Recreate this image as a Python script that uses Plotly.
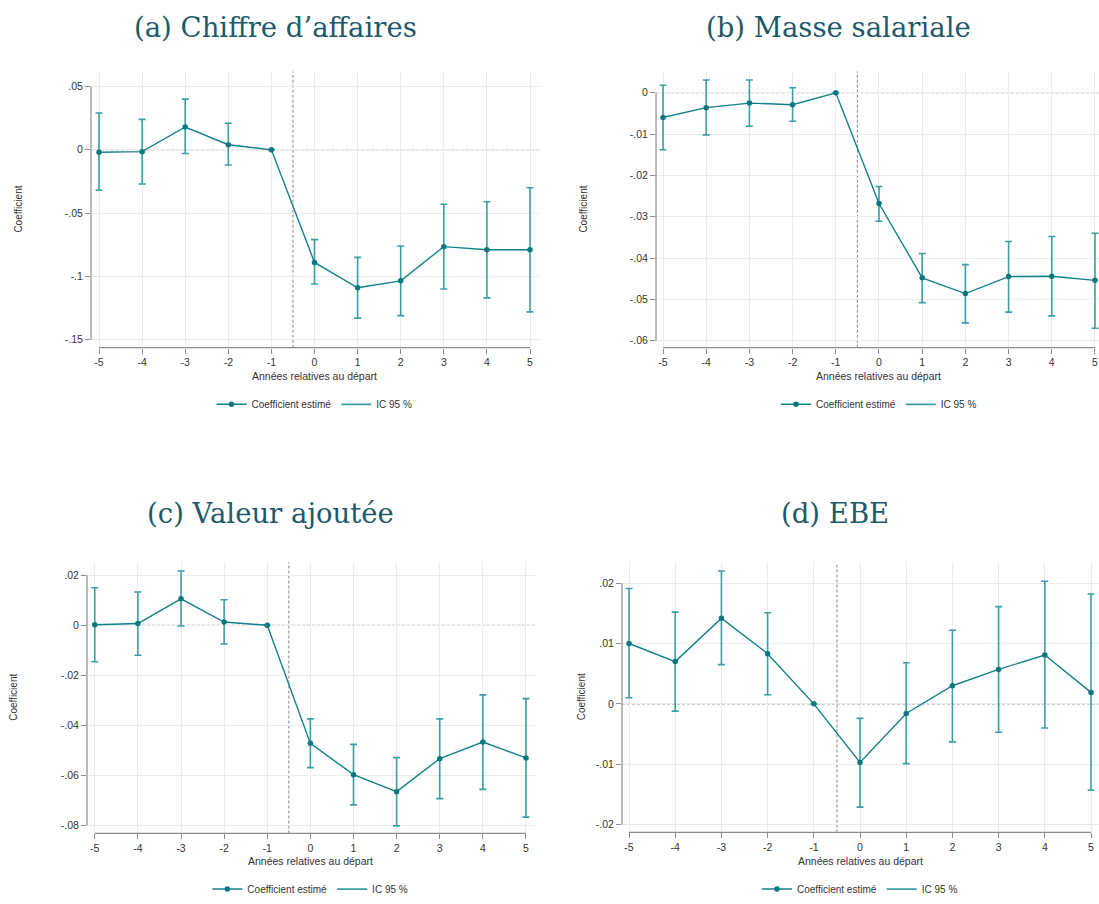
import plotly.graph_objects as go

W, H = 1099, 904

years = [-5, -4, -3, -2, -1, 0, 1, 2, 3, 4, 5]
x_ticktext = ["-5", "-4", "-3", "-2", "-1", "0", "1", "2", "3", "4", "5"]

# (a) Chiffre d'affaires
coef_a = [-0.002, -0.0015, 0.018, 0.004, 0.0, -0.089, -0.109, -0.1035, -0.0765, -0.079, -0.079]
lo_a = [-0.032, -0.027, -0.003, -0.012, 0.0, -0.106, -0.133, -0.131, -0.110, -0.117, -0.128]
hi_a = [0.029, 0.024, 0.040, 0.021, 0.0, -0.071, -0.085, -0.076, -0.043, -0.041, -0.030]
yt_a = [0.05, 0.0, -0.05, -0.1, -0.15]
ytt_a = [".05", "0", "-.05", "-.1", "-.15"]

# (b) Masse salariale
coef_b = [-0.0060, -0.0036, -0.0025, -0.0029, 0.0, -0.0268, -0.0448, -0.0486, -0.0445, -0.0444, -0.0454]
lo_b = [-0.0138, -0.0102, -0.0081, -0.0069, 0.0, -0.0311, -0.0508, -0.0557, -0.0531, -0.0540, -0.0570]
hi_b = [0.0018, 0.0031, 0.0031, 0.0012, 0.0, -0.0227, -0.0389, -0.0416, -0.0360, -0.0348, -0.0340]
yt_b = [0.0, -0.01, -0.02, -0.03, -0.04, -0.05, -0.06]
ytt_b = ["0", "-.01", "-.02", "-.03", "-.04", "-.05", "-.06"]

# (c) Valeur ajoutée
coef_c = [0.0002, 0.0007, 0.0106, 0.0013, 0.0, -0.0472, -0.0597, -0.0665, -0.0533, -0.0467, -0.0530]
lo_c = [-0.0146, -0.0120, -0.0003, -0.0075, 0.0, -0.0569, -0.0718, -0.0802, -0.0693, -0.0656, -0.0767]
hi_c = [0.0150, 0.0133, 0.0217, 0.0102, 0.0, -0.0374, -0.0476, -0.0529, -0.0374, -0.0278, -0.0293]
yt_c = [0.02, 0.0, -0.02, -0.04, -0.06, -0.08]
ytt_c = [".02", "0", "-.02", "-.04", "-.06", "-.08"]

# (d) EBE
coef_d = [0.0100, 0.0070, 0.0142, 0.0083, 0.0, -0.0097, -0.0016, 0.0030, 0.0057, 0.0081, 0.0019]
lo_d = [0.0010, -0.0012, 0.0065, 0.0015, 0.0, -0.0171, -0.0099, -0.0063, -0.0047, -0.0040, -0.0143]
hi_d = [0.0191, 0.0152, 0.0220, 0.0151, 0.0, -0.0024, 0.0068, 0.0122, 0.0161, 0.0203, 0.0182]
yt_d = [0.02, 0.01, 0.0, -0.01, -0.02]
ytt_d = [".02", ".01", "0", "-.01", "-.02"]

titles = ["(a) Chiffre d\u2019affaires", "(b) Masse salariale", "(c) Valeur ajout\u00e9e", "(d) EBE"]

LINE = "#12808a"
MARK = "#0a777e"
CI = "#3a9ea6"
TITLE_C = "#1c5a6a"
GRID = "#ebebeb"
AX = "#8c8c8c"
TXT = "#333333"
FONT = "Liberation Sans, Arial, sans-serif"

# panel layout in pixels: x-domain, y-domain (top, bottom), x range, y range
panels = [
    dict(coef=coef_a, lo=lo_a, hi=hi_a, yt=yt_a, ytt=ytt_a,
         px=(91, 540), py=(72, 350), xr=(-5.186, 5.232), yr=(-0.1563, 0.0618),
         title_xy=(275, 27), ytitle_x=19, xtitle_y=379, leg_y=407),
    dict(coef=coef_b, lo=lo_b, hi=hi_b, yt=yt_b, ytt=ytt_b,
         px=(656, 1099), py=(72, 350), xr=(-5.162, 5.093), yr=(-0.0617, 0.00514),
         title_xy=(838, 27), ytitle_x=584, xtitle_y=379, leg_y=407),
    dict(coef=coef_c, lo=lo_c, hi=hi_c, yt=yt_c, ytt=ytt_c,
         px=(87, 535), py=(566, 839), xr=(-5.18, 5.209), yr=(-0.0832, 0.0252),
         title_xy=(270, 516), ytitle_x=14, xtitle_y=867, leg_y=895),
    dict(coef=coef_d, lo=lo_d, hi=hi_d, yt=yt_d, ytt=ytt_d,
         px=(622, 1099), py=(566, 838), xr=(-5.152, 5.173), yr=(-0.0213, 0.02346),
         title_xy=(835, 516), ytitle_x=581, xtitle_y=867, leg_y=895),
]

fig = go.Figure()
shapes = []
annotations = []
layout = {}

for i, p in enumerate(panels):
    k = i + 1
    xa = "x" if k == 1 else f"x{k}"
    ya = "y" if k == 1 else f"y{k}"
    xkey = "xaxis" if k == 1 else f"xaxis{k}"
    ykey = "yaxis" if k == 1 else f"yaxis{k}"
    lkey = "legend" if k == 1 else f"legend{k}"

    x0p, x1p = p["px"]
    ytop, ybot = p["py"]
    layout[xkey] = dict(domain=[x0p / W, x1p / W], range=list(p["xr"]), anchor=ya,
                        tickvals=years, ticktext=x_ticktext, ticks="outside", ticklen=5,
                        tickcolor=AX, showgrid=True, gridcolor=GRID, gridwidth=1,
                        zeroline=False, showline=False,
                        tickfont=dict(family=FONT, size=10.5, color=TXT))
    layout[ykey] = dict(domain=[1 - ybot / H, 1 - ytop / H], range=list(p["yr"]), anchor=xa,
                        tickvals=p["yt"], ticktext=p["ytt"], ticks="outside", ticklen=5,
                        tickcolor=AX, showgrid=True, gridcolor=GRID, gridwidth=1,
                        zeroline=False, showline=False,
                        tickfont=dict(family=FONT, size=10.5, color=TXT))

    # axis lines spanning tick range
    shapes.append(dict(type="line", xref=f"{xa} domain", yref=ya, x0=0, x1=0,
                       y0=min(p["yt"]), y1=max(p["yt"]), line=dict(color=AX, width=1.2)))
    shapes.append(dict(type="line", xref=xa, yref=f"{ya} domain", y0=0, y1=0,
                       x0=years[0], x1=years[-1], line=dict(color=AX, width=1.2)))
    # reference lines
    shapes.append(dict(type="line", xref=f"{xa} domain", yref=ya, x0=0, x1=1, y0=0, y1=0,
                       line=dict(color="#9a9a9a", width=1.2, dash="3px,2px"), layer="below"))
    shapes.append(dict(type="line", xref=xa, yref=f"{ya} domain", x0=-0.5, x1=-0.5, y0=0, y1=1,
                       line=dict(color="#9a9a9a", width=1.2, dash="3px,2px"), layer="below"))

    ci_plus = [h - c for h, c in zip(p["hi"], p["coef"])]
    ci_minus = [c - l for c, l in zip(p["coef"], p["lo"])]
    # CI bars
    fig.add_trace(go.Scatter(x=years, y=p["coef"], mode="markers", xaxis=xa, yaxis=ya,
                             marker=dict(size=1, opacity=0), showlegend=False, hoverinfo="skip",
                             cliponaxis=False,
                             error_y=dict(type="data", symmetric=False, array=ci_plus,
                                          arrayminus=ci_minus, color=CI, thickness=1.6, width=3.5)))
    # coefficient line
    fig.add_trace(go.Scatter(x=years, y=p["coef"], mode="lines+markers", xaxis=xa, yaxis=ya,
                             name="Coefficient estim\u00e9", legend=lkey, cliponaxis=False,
                             line=dict(color=LINE, width=1.4),
                             marker=dict(color=MARK, size=5.5)))
    # legend entry for CI
    fig.add_trace(go.Scatter(x=[None], y=[None], mode="lines", xaxis=xa, yaxis=ya,
                             name="IC 95 %", legend=lkey, line=dict(color=CI, width=1.8)))

    xc = (x0p + (years[0] - p["xr"][0]) / (p["xr"][1] - p["xr"][0]) * (x1p - x0p)
          + x0p + (years[-1] - p["xr"][0]) / (p["xr"][1] - p["xr"][0]) * (x1p - x0p)) / 2
    layout[lkey] = dict(orientation="h", x=xc / W, xanchor="center", y=1 - p["leg_y"] / H,
                        yanchor="middle", font=dict(family=FONT, size=10, color=TXT),
                        bgcolor="rgba(0,0,0,0)", itemwidth=30, tracegroupgap=0)

    tx, ty = p["title_xy"]
    annotations.append(dict(text=titles[i], x=tx / W, y=1 - ty / H, xref="paper", yref="paper",
                            xanchor="center", yanchor="middle", showarrow=False,
                            font=dict(family="DejaVu Serif, Liberation Serif, serif", size=27.5,
                                      color=TITLE_C)))
    annotations.append(dict(text="Coefficient", x=p["ytitle_x"] / W, y=1 - ((ytop + ybot) / 2) / H,
                            xref="paper", yref="paper", xanchor="center", yanchor="middle",
                            textangle=-90, showarrow=False,
                            font=dict(family=FONT, size=10, color=TXT)))
    annotations.append(dict(text="Ann\u00e9es relatives au d\u00e9part", x=xc / W,
                            y=1 - p["xtitle_y"] / H, xref="paper", yref="paper",
                            xanchor="center", yanchor="middle", showarrow=False,
                            font=dict(family=FONT, size=10.5, color=TXT)))

fig.update_layout(width=W, height=H, margin=dict(l=0, r=0, t=0, b=0),
                  paper_bgcolor="white", plot_bgcolor="white",
                  shapes=shapes, annotations=annotations, **layout)

fig.write_html("out.html", config={"displayModeBar": False},
               post_script="document.body.style.margin='0px';document.body.style.overflow='hidden';")
